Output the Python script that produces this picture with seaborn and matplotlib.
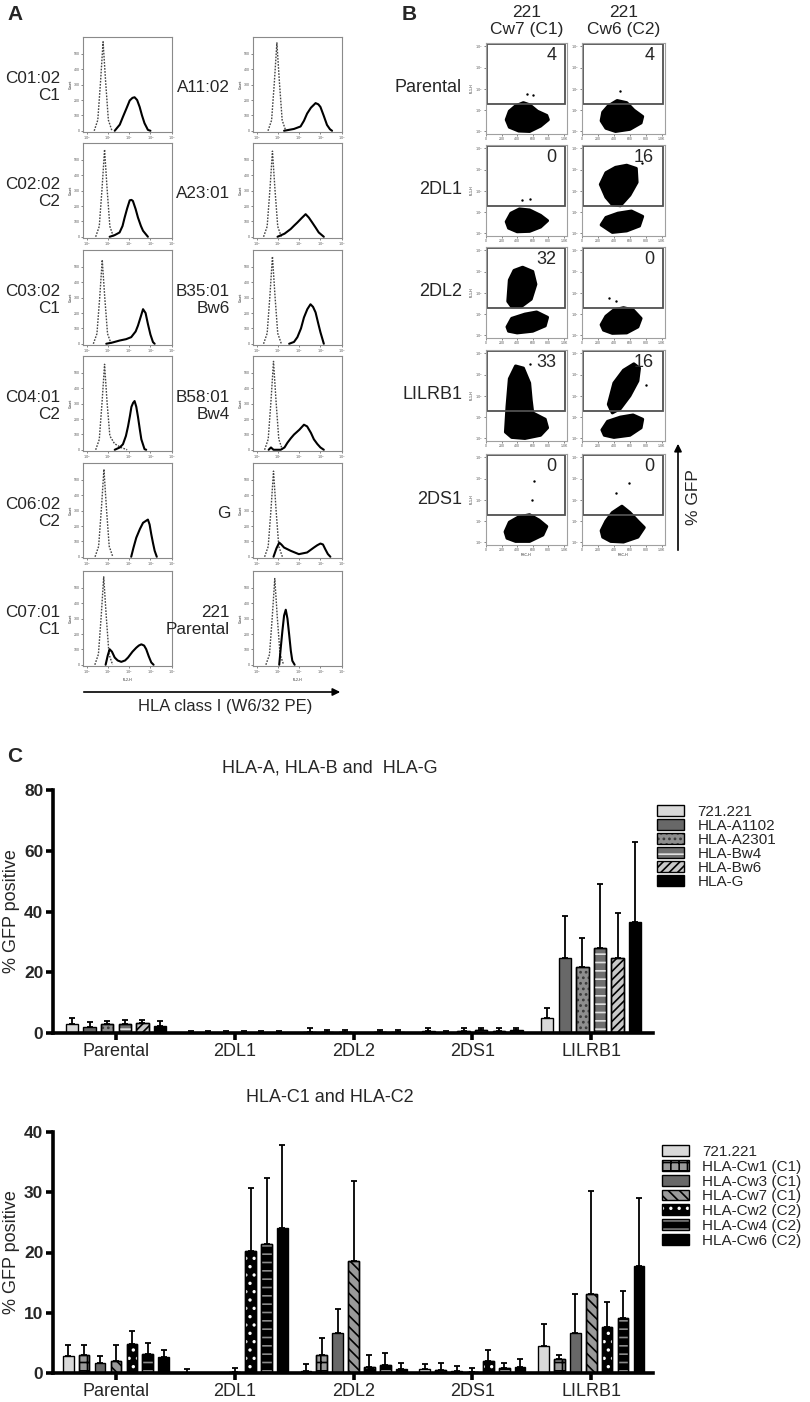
import numpy as np
import pandas as pd
import matplotlib
matplotlib.use('Agg')
import matplotlib.pyplot as plt
from matplotlib.patches import Rectangle, Patch, FancyArrowPatch
from matplotlib.legend_handler import HandlerTuple
import seaborn as sns

sns.set_theme(style='white')
plt.rcParams['font.family'] = ['Liberation Sans', 'DejaVu Sans']
plt.rcParams['hatch.linewidth'] = 1.2

W, H = 810, 1402

# ---------------- panel A: histograms (x = log10 FL2-H, y = count) ----------------
A_LEFT_LABELS = ['C01:02\nC1', 'C02:02\nC2', 'C03:02\nC1', 'C04:01\nC2', 'C06:02\nC2', 'C07:01\nC1']
A_RIGHT_LABELS = ['A11:02', 'A23:01', 'B35:01\nBw6', 'B58:01\nBw4', 'G', '221\nParental']

# isotype control (dotted) curves
ISO_C0102 = ([0.34, 0.51, 0.64, 0.76, 0.88, 1.01, 1.18], [0, 70, 320, 579, 320, 70, 0])
ISO_C0202 = ([0.41, 0.58, 0.71, 0.83, 0.95, 1.08, 1.25], [0, 68, 312, 568, 312, 68, 0])
ISO_C0302 = ([0.30, 0.47, 0.60, 0.72, 0.84, 0.97, 1.14], [0, 66, 300, 546, 300, 66, 0])
ISO_C0401 = ([0.41, 0.58, 0.71, 0.83, 0.95, 1.08, 1.30, 1.60, 1.90], [0, 67, 306, 556, 306, 90, 40, 15, 0])
ISO_C0602 = ([0.38, 0.55, 0.68, 0.80, 0.92, 1.05, 1.22], [0, 68, 313, 570, 313, 68, 0])
ISO_C0701 = ([0.37, 0.54, 0.67, 0.79, 0.91, 1.04, 1.21], [0, 69, 315, 572, 315, 69, 0])
ISO_A1102 = ([0.52, 0.69, 0.82, 0.94, 1.06, 1.19, 1.36], [0, 69, 315, 572, 315, 69, 0])
ISO_A2301 = ([0.31, 0.48, 0.61, 0.73, 0.85, 0.98, 1.15], [0, 67, 306, 557, 306, 67, 0])
ISO_B3501 = ([0.31, 0.48, 0.61, 0.73, 0.85, 0.98, 1.15], [0, 68, 312, 568, 312, 68, 0])
ISO_B5801 = ([0.36, 0.53, 0.66, 0.78, 0.90, 1.03, 1.20], [0, 69, 316, 575, 316, 69, 0])
ISO_G = ([0.36, 0.53, 0.66, 0.78, 0.90, 1.03, 1.20], [0, 67, 306, 557, 306, 67, 0])
ISO_221 = ([0.42, 0.59, 0.72, 0.84, 0.96, 1.09, 1.26], [0, 67, 308, 561, 308, 67, 0])

# W6/32 stained (solid) curves
HLA_C0102 = ([1.31, 1.55, 1.70, 1.88, 2.02, 2.15, 2.25, 2.37, 2.49, 2.60, 2.72, 2.88, 3.00],
             [0, 40, 91, 150, 197, 214, 218, 200, 155, 100, 49, 6, 0])
HLA_C0202 = ([1.07, 1.30, 1.54, 1.68, 1.78, 1.90, 2.02, 2.10, 2.17, 2.30, 2.41, 2.55, 2.65, 2.88],
             [0, 10, 28, 70, 125, 185, 237, 240, 233, 180, 125, 70, 39, 0])
HLA_C0302 = ([0.91, 1.20, 1.54, 1.85, 2.09, 2.30, 2.41, 2.55, 2.65, 2.77, 2.88, 3.00, 3.12, 3.20],
             [0, 8, 21, 30, 43, 80, 118, 180, 225, 200, 129, 60, 11, 0])
HLA_C0401 = ([1.31, 1.55, 1.70, 1.84, 1.94, 2.03, 2.10, 2.18, 2.25, 2.33, 2.41, 2.50, 2.57, 2.72, 2.80],
             [0, 15, 36, 90, 152, 220, 279, 305, 317, 280, 215, 130, 68, 4, 0])
HLA_C0602 = ([2.09, 2.20, 2.33, 2.50, 2.65, 2.77, 2.88, 2.96, 3.04, 3.12, 3.20, 3.30],
             [0, 60, 124, 180, 221, 232, 242, 210, 146, 90, 39, 0])
HLA_C0701 = ([0.88, 0.98, 1.07, 1.18, 1.31, 1.45, 1.62, 1.80, 1.94, 2.15, 2.33, 2.45, 2.57, 2.70, 2.80, 2.92, 3.04, 3.15],
             [0, 60, 101, 85, 47, 28, 19, 28, 47, 85, 111, 125, 133, 125, 101, 55, 15, 0])
HLA_A1102 = ([1.28, 1.75, 2.06, 2.22, 2.37, 2.55, 2.77, 2.90, 3.00, 3.15, 3.31, 3.45, 3.55],
             [0, 12, 28, 65, 112, 150, 180, 172, 155, 100, 38, 10, 0])
HLA_A2301 = ([0.97, 1.30, 1.59, 1.75, 1.91, 2.10, 2.30, 2.45, 2.61, 2.78, 2.92, 3.16],
             [0, 20, 50, 72, 93, 120, 147, 125, 93, 58, 28, 0])
HLA_B3501 = ([1.52, 1.75, 1.91, 2.08, 2.22, 2.38, 2.53, 2.65, 2.77, 2.90, 3.00, 3.16],
             [0, 12, 43, 100, 171, 225, 257, 240, 204, 130, 75, 0])
HLA_B5801 = ([0.55, 0.66, 0.78, 1.12, 1.30, 1.44, 1.60, 1.75, 2.00, 2.22, 2.37, 2.55, 2.69, 2.85, 3.00, 3.16],
             [0, 15, 0, 0, 15, 46, 75, 99, 130, 163, 152, 110, 68, 38, 15, 0])
HLA_G = ([0.78, 0.92, 1.05, 1.15, 1.28, 1.59, 1.98, 2.37, 2.69, 2.85, 3.00, 3.12, 3.23, 3.35, 3.47],
         [0, 55, 92, 80, 60, 39, 17, 28, 60, 75, 86, 80, 49, 18, 0])
HLA_221 = ([1.05, 1.13, 1.20, 1.28, 1.36, 1.44, 1.52, 1.60, 1.67, 1.78],
           [0, 120, 219, 320, 358, 300, 197, 90, 26, 0])

A_LEFT = [(ISO_C0102, HLA_C0102), (ISO_C0202, HLA_C0202), (ISO_C0302, HLA_C0302),
          (ISO_C0401, HLA_C0401), (ISO_C0602, HLA_C0602), (ISO_C0701, HLA_C0701)]
A_RIGHT = [(ISO_A1102, HLA_A1102), (ISO_A2301, HLA_A2301), (ISO_B3501, HLA_B3501),
           (ISO_B5801, HLA_B5801), (ISO_G, HLA_G), (ISO_221, HLA_221)]

# ---------------- panel B: reporter cells (x = FSC-H, y = log10 GFP) ----------------
B_ROWS = ['Parental', '2DL1', '2DL2', 'LILRB1', '2DS1']
B_PCT_CW7 = [4, 0, 32, 33, 0]
B_PCT_CW6 = [4, 16, 0, 16, 0]

# outlines of the dense event clouds
CW7_PAR = [([260, 300, 380, 480, 560, 660, 780, 800, 700, 560, 420, 300],
            [0.55, 0.95, 1.20, 1.35, 1.25, 0.95, 0.75, 0.55, 0.25, 0.00, 0.02, 0.20])]
CW6_PAR = [([240, 260, 330, 440, 560, 650, 760, 740, 600, 420, 300],
            [0.50, 0.90, 1.20, 1.45, 1.35, 1.00, 0.70, 0.40, 0.10, 0.00, 0.15])]
CW7_2DL1 = [([260, 320, 430, 560, 700, 790, 700, 560, 400, 290],
             [0.55, 0.95, 1.15, 1.10, 0.85, 0.60, 0.30, 0.10, 0.08, 0.25])]
CW6_2DL1 = [([230, 300, 420, 560, 680, 690, 600, 480, 380, 300],
             [2.30, 2.85, 3.10, 3.20, 3.05, 2.40, 1.80, 1.30, 1.35, 1.70]),
            ([240, 300, 450, 620, 760, 720, 560, 380],
             [0.40, 0.75, 0.95, 1.05, 0.80, 0.35, 0.12, 0.05])]
CW7_2DL2 = [([280, 300, 360, 470, 600, 640, 580, 450, 330],
             [1.60, 2.60, 3.05, 3.20, 3.00, 2.40, 1.70, 1.35, 1.35]),
            ([270, 330, 500, 650, 790, 760, 600, 400, 290],
             [0.40, 0.80, 1.00, 1.10, 0.85, 0.45, 0.20, 0.12, 0.20])]
CW6_2DL2 = [([240, 300, 400, 520, 640, 740, 700, 560, 380, 270],
             [0.50, 0.90, 1.20, 1.30, 1.20, 0.80, 0.40, 0.12, 0.10, 0.25])]
CW7_LILRB1 = [([250, 270, 300, 380, 480, 560, 580, 600, 760, 790, 700, 500, 330],
               [0.30, 1.50, 2.80, 3.40, 3.30, 2.60, 1.80, 1.20, 0.90, 0.50, 0.15, 0.00, 0.05])]
CW6_LILRB1 = [([330, 400, 520, 650, 720, 700, 600, 480, 380],
               [1.60, 2.60, 3.20, 3.50, 3.30, 2.70, 2.00, 1.40, 1.20]),
              ([250, 320, 480, 640, 760, 740, 600, 400, 280],
               [0.40, 0.80, 1.00, 1.10, 0.90, 0.50, 0.15, 0.05, 0.15])]
CW7_2DS1 = [([245, 300, 420, 560, 680, 780, 730, 560, 380, 270],
             [0.50, 0.95, 1.20, 1.30, 1.05, 0.75, 0.35, 0.05, 0.05, 0.20])]
CW6_2DS1 = [([240, 300, 380, 500, 600, 700, 780, 700, 520, 360, 260],
             [0.55, 1.00, 1.40, 1.70, 1.40, 1.00, 0.70, 0.25, 0.02, 0.05, 0.25])]
B_CW7 = [CW7_PAR, CW7_2DL1, CW7_2DL2, CW7_LILRB1, CW7_2DS1]
B_CW6 = [CW6_PAR, CW6_2DL1, CW6_2DL2, CW6_LILRB1, CW6_2DS1]
# a few stray events above the clouds
STRAY_CW7 = [([520, 600], [1.75, 1.70]), ([460, 560], [1.55, 1.60]), ([420], [1.7]), ([560], [3.5]), ([620, 590], [2.9, 2.0])]
STRAY_CW6 = [([480], [1.9]), ([750], [3.3]), ([340, 420], [1.75, 1.6]), ([800], [2.5]), ([590, 430], [2.8, 2.3])]
GATE_LO, GATE_HI = 1.27, 4.10

# ---------------- panel C: % GFP positive ----------------
RECEPTORS = ['Parental', '2DL1', '2DL2', '2DS1', 'LILRB1']

AB_LINES = ['721.221', 'HLA-A1102', 'HLA-A2301', 'HLA-Bw4', 'HLA-Bw6', 'HLA-G']
AB_MEAN = [[2.9, 0.1, 0.3, 0.6, 4.8],
           [2.1, 0.1, 0.2, 0.1, 24.6],
           [3.0, 0.1, 0.2, 0.8, 21.7],
           [2.9, 0.1, 0.0, 0.9, 28.0],
           [3.2, 0.1, 0.2, 0.8, 24.7],
           [2.3, 0.1, 0.2, 0.9, 36.7]]
AB_SD = [[2.0, 0.4, 1.2, 1.2, 3.5],
         [1.4, 0.4, 0.8, 0.4, 13.9],
         [1.0, 0.4, 0.8, 0.9, 9.5],
         [1.5, 0.4, np.nan, 0.8, 21.0],
         [1.2, 0.4, 0.8, 0.9, 14.8],
         [1.5, 0.4, 0.8, 0.8, 26.3]]
AB_FACE = ['#d9d9d9', '#686868', '#8e8e8e', '#6e6e6e', '#c8c8c8', '#000000']
AB_HATCH = [None, None, '...', '--', '////', None]
AB_HATCH_COLOR = [None, None, '#3a3a3a', '#e0e0e0', '#000000', None]

C_LINES = ['721.221', 'HLA-Cw1 (C1)', 'HLA-Cw3 (C1)', 'HLA-Cw7 (C1)', 'HLA-Cw2 (C2)', 'HLA-Cw4 (C2)', 'HLA-Cw6 (C2)']
C_MEAN = [[2.8, 0.0, 0.4, 0.6, 4.4],
          [3.0, 0.0, 3.0, 0.5, 2.3],
          [1.6, 0.0, 6.7, 0.3, 6.6],
          [2.0, 0.2, 18.6, 0.1, 13.1],
          [4.8, 20.2, 1.0, 2.0, 7.6],
          [3.1, 21.4, 1.4, 0.8, 9.1],
          [2.6, 24.1, 0.7, 1.0, 17.8]]
C_SD = [[1.9, 0.6, 1.1, 0.9, 3.7],
        [1.7, np.nan, 2.8, 1.2, 0.7],
        [1.3, np.nan, 3.9, 0.8, 6.5],
        [2.6, 0.7, 13.3, 0.7, 17.1],
        [2.2, 10.5, 2.0, 1.8, 4.2],
        [1.8, 10.9, 1.9, 0.9, 4.5],
        [1.2, 13.8, 1.0, 1.3, 11.2]]
C_FACE = ['#d9d9d9', '#9a9a9a', '#686868', '#9a9a9a', '#000000', '#000000', '#000000']
C_HATCH = [None, '++', None, '\\\\\\', '..', '--', None]
C_HATCH_COLOR = [None, '#000000', None, '#000000', '#ffffff', '#8a8a8a', None]

fig = plt.figure(figsize=(W / 100, H / 100), dpi=100)


def add_ax(x0, y0, x1, y1):
    return fig.add_axes([x0 / W, 1 - y1 / H, (x1 - x0) / W, (y1 - y0) / H])


def fx(x):
    return x / W


def fy(y):
    return 1 - y / H


def tiny_frame(ax, color='#8a8a8a'):
    for s in ax.spines.values():
        s.set_color(color)
        s.set_linewidth(0.8)
    ax.tick_params(labelsize=2.5, length=1.5, width=0.5, pad=0.5, colors='#555555',
                   bottom=True, left=True)


# ---------------- draw panel A ----------------
fig.text(fx(7), fy(15), 'A', fontsize=15, fontweight='bold', va='center', ha='left')
A_TOPS = [37, 143, 250, 356, 463, 571]
for col, (x0, x1, labels, curves, lab_x) in enumerate([(83, 172, A_LEFT_LABELS, A_LEFT, 60),
                                                         (253, 342, A_RIGHT_LABELS, A_RIGHT, 230)]):
    for r, top in enumerate(A_TOPS):
        ax = add_ax(x0, top, x1, top + 95)
        iso, hla = curves[r]
        sns.lineplot(x=iso[0], y=iso[1], ax=ax, color='#444444', lw=1.0, sort=False,
                     linestyle=(0, (1.2, 1.0)))
        sns.lineplot(x=hla[0], y=hla[1], ax=ax, color='black', lw=1.5, sort=False)
        ax.set_xlim(-0.19, 4.02)
        ax.set_ylim(-8, 610)
        ax.set_xticks([0, 1, 2, 3, 4])
        ax.set_xticklabels([r'$10^{%d}$' % i for i in range(5)])
        ax.set_yticks([0, 100, 200, 300, 400, 500])
        tiny_frame(ax)
        ax.set_ylabel('Count', fontsize=2.5, labelpad=1)
        ax.set_xlabel('FL2-H' if r == 5 else '', fontsize=2.5, labelpad=1)
        fig.text(fx(lab_x), fy(top + 50), labels[r], ha='right', va='center', fontsize=12.3,
                 linespacing=1.1)

fig.add_artist(FancyArrowPatch((fx(81), fy(692)), (fx(343), fy(692)), transform=fig.transFigure,
                               arrowstyle='-|>', mutation_scale=11, lw=1.2, color='black'))
fig.text(fx(225), fy(707), 'HLA class I (W6/32 PE)', ha='center', va='center', fontsize=12)

# ---------------- draw panel B ----------------
fig.text(fx(402), fy(15), 'B', fontsize=15, fontweight='bold', va='center', ha='left')
fig.text(fx(527), fy(21), '221\nCw7 (C1)', ha='center', va='center', fontsize=12.5, linespacing=1.2)
fig.text(fx(624), fy(21), '221\nCw6 (C2)', ha='center', va='center', fontsize=12.5, linespacing=1.2)
B_TOPS = [43, 145, 247, 350, 454]
for col, (x0, x1, clouds, pcts, strays) in enumerate([(486, 567, B_CW7, B_PCT_CW7, STRAY_CW7),
                                                       (582, 665, B_CW6, B_PCT_CW6, STRAY_CW6)]):
    for r, top in enumerate(B_TOPS):
        ax = add_ax(x0, top, x1, top + 91)
        for xs, ys in clouds[r]:
            ax.fill(xs, ys, facecolor='black', lw=2.2, edgecolor='black', joinstyle='round')
        sns.scatterplot(x=strays[r][0], y=strays[r][1], ax=ax, color='black', s=3, linewidth=0)
        ax.add_patch(Rectangle((15, GATE_LO), 1000, GATE_HI - GATE_LO, fill=False,
                               edgecolor='#505050', lw=1.3))
        ax.text(0.87, 0.86, str(pcts[r]), transform=ax.transAxes, ha='right', va='center', fontsize=13)
        ax.set_xlim(0, 1040)
        ax.set_ylim(-0.12, 4.15)
        ax.set_xticks([0, 200, 400, 600, 800, 1000])
        ax.set_xticklabels(['0', '200', '400', '600', '800', '1.0K'])
        ax.set_yticks([0, 1, 2, 3, 4])
        ax.set_yticklabels([r'$10^{%d}$' % i for i in range(5)])
        tiny_frame(ax, '#a0a0a0')
        ax.set_ylabel('FL1-H' if col == 0 else '', fontsize=2.5, labelpad=1)
        ax.set_xlabel('FSC-H' if r == 4 else '', fontsize=2.5, labelpad=1)
        if col == 0:
            fig.text(fx(462), fy(top + 45), B_ROWS[r], ha='right', va='center', fontsize=13)

fig.add_artist(FancyArrowPatch((fx(678), fy(553)), (fx(678), fy(441)), transform=fig.transFigure,
                               arrowstyle='-|>', mutation_scale=11, lw=1.2, color='black'))
fig.text(fx(693), fy(497), '% GFP', ha='center', va='center', rotation=90, fontsize=12.5)

# ---------------- draw panel C ----------------
fig.text(fx(7), fy(757), 'C', fontsize=15, fontweight='bold', va='center', ha='left')


def bar_panel(y_top, y_bot, lines, means, sds, faces, hatches, hcolors, ymax, yticks,
              width, gap, title, title_y, legend_y, legend_x, spacing):
    ax = add_ax(53, y_top, 653, y_bot)
    rows = []
    for line, m in zip(lines, means):
        for rec, v in zip(RECEPTORS, m):
            rows.append({'receptor': rec, 'line': line, 'value': v})
    df = pd.DataFrame(rows)
    sns.barplot(data=df, x='receptor', y='value', hue='line', order=RECEPTORS, hue_order=lines,
                palette=dict(zip(lines, faces)), edgecolor='black', linewidth=1.0, saturation=1,
                width=width, gap=gap, errorbar=None, legend=False, ax=ax)
    for cont, m, sd, h, hc in zip(ax.containers, means, sds, hatches, hcolors):
        xs = [p.get_x() + p.get_width() / 2 for p in cont.patches]
        sd = np.array(sd, dtype=float)
        ax.errorbar(xs, m, yerr=[np.zeros_like(sd), sd], fmt='none', ecolor='black',
                    elinewidth=1.3, capsize=2.5, capthick=1.3, zorder=1.5)
        for p in cont.patches:
            if h is not None:
                ax.add_patch(Rectangle(p.get_xy(), p.get_width(), p.get_height(), facecolor='none',
                                       edgecolor=hc, hatch=h, lw=0, zorder=p.get_zorder() + 0.1))
                ax.add_patch(Rectangle(p.get_xy(), p.get_width(), p.get_height(), facecolor='none',
                                       edgecolor='black', lw=1.0, zorder=p.get_zorder() + 0.2))
    ax.set_xlim(-0.53, 4.52)
    ax.set_ylim(0, ymax)
    ax.set_yticks(yticks)
    ax.set_xlabel('')
    ax.set_ylabel('')
    sns.despine(ax=ax)
    for s in ['left', 'bottom']:
        ax.spines[s].set_linewidth(2.6)
        ax.spines[s].set_color('black')
    ax.tick_params(axis='both', direction='out', length=5, width=2.6, color='black',
                   bottom=True, left=True)
    for t in ax.get_yticklabels():
        t.set_fontweight('bold')
        t.set_fontsize(12.5)
    for t in ax.get_xticklabels():
        t.set_fontsize(13)
    ax.tick_params(axis='x', pad=2.5)
    ax.tick_params(axis='y', pad=2)
    fig.text(fx(12), fy((y_top + y_bot) / 2), '% GFP positive', rotation=90, ha='center',
             va='center', fontsize=13)
    fig.text(fx(330), fy(title_y), title, ha='center', va='center', fontsize=13)
    handles = []
    for f, h, hc in zip(faces, hatches, hcolors):
        if h is None:
            handles.append(Patch(facecolor=f, edgecolor='black', lw=1.0))
        else:
            handles.append((Patch(facecolor=f, edgecolor=hc, hatch=h, lw=0),
                            Patch(facecolor='none', edgecolor='black', lw=1.0)))
    fig.legend(handles, lines, loc='upper left', bbox_to_anchor=(fx(legend_x), fy(legend_y)),
               frameon=False, handler_map={tuple: HandlerTuple(ndivide=1)},
               handlelength=1.75, handleheight=0.7, labelspacing=spacing, handletextpad=0.9,
               borderpad=0, borderaxespad=0, prop={'size': 11})
    return ax


bar_panel(790, 1033, AB_LINES, AB_MEAN, AB_SD, AB_FACE, AB_HATCH, AB_HATCH_COLOR, 80,
          [0, 20, 40, 60, 80], 0.89, 0.3, 'HLA-A, HLA-B and  HLA-G', 768, 805, 657, 0.0)
bar_panel(1132, 1373, C_LINES, C_MEAN, C_SD, C_FACE, C_HATCH, C_HATCH_COLOR, 40,
          [0, 10, 20, 30, 40], 0.937, 0.33, 'HLA-C1 and HLA-C2', 1097, 1145, 662, 0.05)

fig.savefig('out.png', dpi=100, facecolor='white')
